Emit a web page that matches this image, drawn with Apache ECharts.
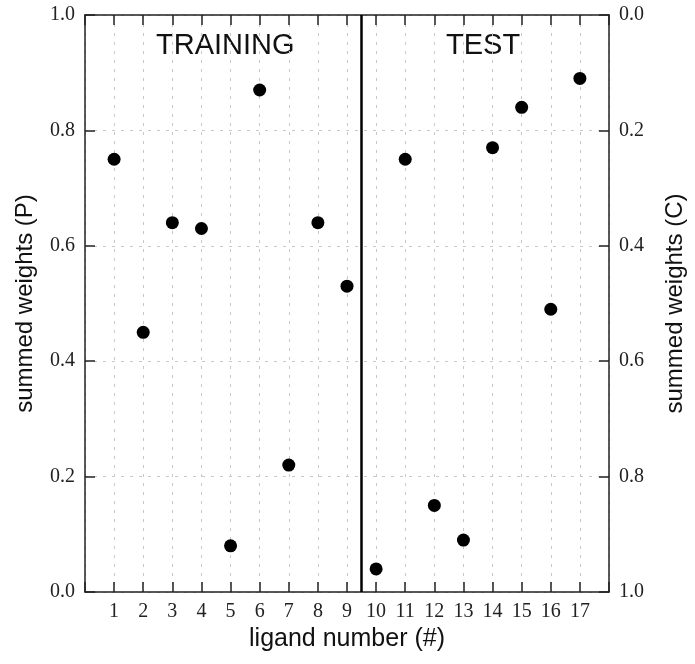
<!DOCTYPE html>
<html>
<head>
<meta charset="utf-8">
<script src="https://cdn.jsdelivr.net/npm/echarts@6/dist/echarts.min.js"></script>
<style>
html, body { margin: 0; padding: 0; background: #fff; }
#chart { width: 695px; height: 664px; }
</style>
</head>
<body>
<div id="chart"></div>
<script>
// ligand numbers and summed weights
var ligands = [1, 2, 3, 4, 5, 6, 7, 8, 9, 10, 11, 12, 13, 14, 15, 16, 17]
var weights = [0.75, 0.45, 0.64, 0.63, 0.08, 0.87, 0.22, 0.64, 0.53, 0.04, 0.75, 0.15, 0.09, 0.77, 0.84, 0.49, 0.89]
var yTicks = [0, 0.2, 0.4, 0.6, 0.8, 1.0]
var splitAt = 9.5

var serif = 'Liberation Serif'
var sans = 'Liberation Sans'
var axisColor = '#222'

var points = ligands.map(function (n, i) { return [n, weights[i]] })

var chart = echarts.init(document.getElementById('chart'))

var xBase = {
    type: 'value',
    min: 0,
    max: 18,
    interval: 1,
    axisLine: { show: true, onZero: false, lineStyle: { color: axisColor, width: 1.5 } },
    axisTick: { show: true, inside: true, length: 10, lineStyle: { color: axisColor, width: 1.5 } },
    splitLine: { show: false }
}

var yBase = {
    type: 'value',
    min: yTicks[0],
    max: yTicks[yTicks.length - 1],
    interval: 0.2,
    axisLine: { show: true, onZero: false, lineStyle: { color: axisColor, width: 1.5 } },
    axisTick: { show: true, inside: true, length: 10, lineStyle: { color: axisColor, width: 1.5 } },
    axisLabel: {
        fontFamily: serif,
        fontSize: 20,
        color: '#222',
        margin: 10,
        formatter: function (v) { return v.toFixed(1) }
    },
    nameLocation: 'middle',
    nameTextStyle: { fontFamily: sans, fontSize: 24, color: '#111' },
    splitLine: { show: false }
}

chart.setOption({
    animation: false,
    grid: { left: 85, right: 86, top: 15, bottom: 72 },
    xAxis: [
        Object.assign({}, xBase, {
            position: 'bottom',
            name: 'ligand number (#)',
            nameLocation: 'middle',
            nameGap: 30,
            nameTextStyle: { fontFamily: sans, fontSize: 25, color: '#111', verticalAlign: 'top' },
            axisLabel: {
                fontFamily: serif,
                fontSize: 20,
                color: '#222',
                margin: 10,
                formatter: function (v) { return ligands.indexOf(v) >= 0 ? String(v) : '' }
            },
            splitLine: { show: true, lineStyle: { color: '#c8c8c8', type: [3, 6], width: 1 } }
        }),
        Object.assign({}, xBase, {
            position: 'top',
            axisLabel: { show: false }
        })
    ],
    yAxis: [
        Object.assign({}, yBase, {
            position: 'left',
            name: 'summed weights (P)',
            nameGap: 48,
            splitLine: { show: true, lineStyle: { color: '#c8c8c8', type: [3, 6], width: 1 } }
        }),
        Object.assign({}, yBase, {
            position: 'right',
            inverse: true,
            name: 'summed weights (C)',
            nameGap: 54,
            nameRotate: 90
        })
    ],
    graphic: [
        { type: 'text', left: 156, top: 31, style: { text: 'TRAINING', fontFamily: sans, fontSize: 29, fill: '#111' } },
        { type: 'text', left: 446, top: 31, style: { text: 'TEST', fontFamily: sans, fontSize: 29, fill: '#111' } }
    ],
    series: [{
        type: 'scatter',
        xAxisIndex: 0,
        yAxisIndex: 0,
        symbol: 'circle',
        symbolSize: 13,
        itemStyle: { color: '#000', opacity: 1 },
        data: points,
        markLine: {
            silent: true,
            symbol: ['none', 'none'],
            label: { show: false },
            lineStyle: { color: '#000', width: 2.5, type: 'solid' },
            data: [{ xAxis: splitAt }]
        }
    }]
})
</script>
</body>
</html>
